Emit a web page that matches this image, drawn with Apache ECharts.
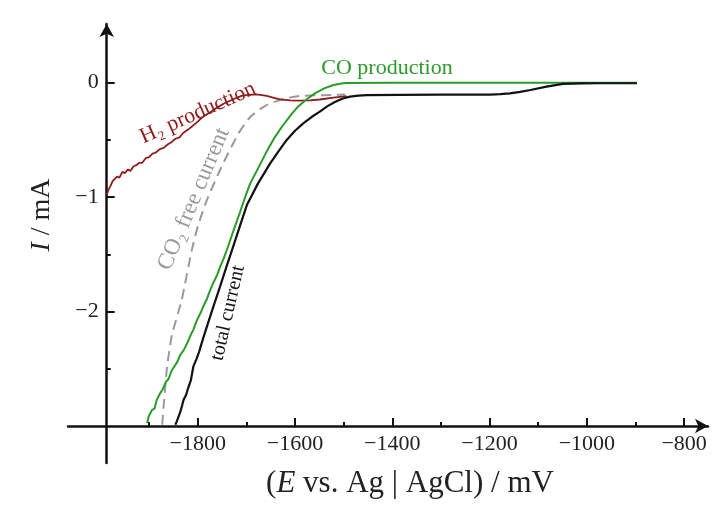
<!DOCTYPE html>
<html>
<head>
<meta charset="utf-8">
<script src="https://cdn.jsdelivr.net/npm/echarts@6/dist/echarts.min.js"></script>
<style>
html,body{margin:0;padding:0;background:#fff;}
#chart{width:718px;height:511px;}
</style>
</head>
<body>
<div id="chart"></div>
<script>
// ---- data (E in mV, I in mA) ----
var xTicks = [-1800, -1600, -1400, -1200, -1000, -800];
var xMinorTicks = [-1900, -1700, -1500, -1300, -1100, -900];
var yTicks = [0, -1, -2];
var yMinorTicks = [-0.5, -1.5, -2.5];

var h2Production = [[-1987,-0.98],[-1983,-0.93],[-1979,-0.90],[-1975,-0.86],[-1971,-0.87],[-1966,-0.82],[-1961,-0.83],[-1955,-0.78],[-1950,-0.79],[-1944,-0.76],[-1938,-0.77],[-1932,-0.73],[-1926,-0.72],[-1920,-0.70],[-1914,-0.70],[-1907,-0.66],[-1900,-0.65],[-1893,-0.62],[-1886,-0.61],[-1878,-0.58],[-1870,-0.57],[-1862,-0.54],[-1854,-0.52],[-1846,-0.49],[-1838,-0.48],[-1830,-0.44],[-1820,-0.41],[-1811,-0.38],[-1800,-0.34],[-1790,-0.30],[-1775,-0.26],[-1761,-0.22],[-1745,-0.18],[-1727,-0.145],[-1710,-0.115],[-1693,-0.105],[-1675,-0.105],[-1658,-0.116],[-1645,-0.13],[-1631,-0.145],[-1610,-0.155],[-1590,-0.157],[-1570,-0.155],[-1549,-0.147],[-1521,-0.13],[-1494,-0.118]];

var coProduction = [[-1904,-2.975],[-1901,-2.92],[-1898,-2.93],[-1894,-2.86],[-1889,-2.85],[-1884,-2.77],[-1878,-2.72],[-1872,-2.68],[-1866,-2.62],[-1860,-2.59],[-1854,-2.52],[-1848,-2.48],[-1842,-2.44],[-1836,-2.38],[-1829,-2.34],[-1822,-2.28],[-1815,-2.21],[-1808,-2.15],[-1802,-2.08],[-1795,-2.02],[-1788,-1.95],[-1781,-1.89],[-1775,-1.82],[-1768,-1.75],[-1761,-1.69],[-1754,-1.61],[-1747,-1.54],[-1740,-1.46],[-1727,-1.30],[-1713,-1.13],[-1700,-0.97],[-1692,-0.88],[-1675,-0.74],[-1658,-0.60],[-1642,-0.48],[-1627,-0.385],[-1610,-0.29],[-1594,-0.21],[-1576,-0.145],[-1559,-0.093],[-1540,-0.05],[-1521,-0.02],[-1505,-0.007],[-1494,-0.002],[-1400,0],[-897,0]];

var totalCurrent = [[-1846,-2.99],[-1843,-2.96],[-1840,-2.965],[-1836,-2.88],[-1832,-2.82],[-1829,-2.77],[-1824,-2.73],[-1819,-2.66],[-1814,-2.60],[-1809,-2.48],[-1803,-2.42],[-1797,-2.35],[-1790,-2.25],[-1781,-2.13],[-1768,-1.96],[-1754,-1.78],[-1741,-1.61],[-1727,-1.43],[-1713,-1.25],[-1699,-1.07],[-1676,-0.88],[-1651,-0.705],[-1634,-0.60],[-1617,-0.50],[-1600,-0.42],[-1583,-0.355],[-1566,-0.30],[-1549,-0.253],[-1533,-0.205],[-1518,-0.169],[-1503,-0.14],[-1487,-0.122],[-1470,-0.113],[-1452,-0.108],[-1384,-0.106],[-1300,-0.105],[-1199,-0.105],[-1178,-0.10],[-1158,-0.094],[-1137,-0.08],[-1116,-0.064],[-1083,-0.035],[-1049,-0.011],[-1010,-0.006],[-973,-0.005],[-897,-0.005]];

var co2FreeCurrent = [[-1873,-2.99],[-1869,-2.77],[-1863,-2.485],[-1853,-2.205],[-1833,-1.90],[-1812,-1.46],[-1799,-1.243],[-1781,-1.025],[-1751,-0.734],[-1716,-0.442],[-1692,-0.30],[-1662,-0.204],[-1625,-0.142],[-1590,-0.116],[-1556,-0.11],[-1522,-0.108],[-1497,-0.103]];

var labels = {
  h2: 'H\u2082 production',
  co: 'CO production',
  co2free: 'CO\u2082 free current',
  total: 'total current'
};

// ---- chart ----
var FONT = '"Liberation Serif", "DejaVu Serif", serif';
var chart = echarts.init(document.getElementById('chart'), null, {renderer: 'canvas'});
var xMin = -2066.7, xMax = -750.9, yMin = -3.324, yMax = 0.513;
function minus(v){ return String(v).replace('-', '\u2212'); }

var option = {
  backgroundColor: '#fff',
  animation: false,
  grid: {left: 68, right: 10, top: 24, bottom: 48, containLabel: false},
  xAxis: [{
    type: 'value', min: xMin, max: xMax, position: 'bottom', offset: -37,
    axisLine: {onZero: false, lineStyle: {color: '#111', width: 2.5}, symbol: ['none', 'arrow'], symbolSize: [11, 13]},
    axisTick: {inside: true, length: 8, lineStyle: {color: '#111', width: 2}, customValues: xTicks},
    axisLabel: {customValues: xTicks, formatter: minus, margin: 7, color: '#222', fontFamily: FONT, fontSize: 22},
    splitLine: {show: false}
  }, {
    type: 'value', min: xMin, max: xMax, position: 'bottom', offset: -37,
    axisLine: {show: false, onZero: false},
    axisTick: {inside: true, length: 4, lineStyle: {color: '#111', width: 2}, customValues: xMinorTicks},
    axisLabel: {show: false},
    splitLine: {show: false}
  }],
  yAxis: [{
    type: 'value', min: yMin, max: yMax, position: 'left', offset: -38.7,
    axisLine: {onZero: false, lineStyle: {color: '#111', width: 2.5}, symbol: ['none', 'arrow'], symbolSize: [11, 13]},
    axisTick: {inside: true, length: 8, lineStyle: {color: '#111', width: 2}, customValues: yTicks},
    axisLabel: {customValues: yTicks, formatter: minus, margin: 8, color: '#222', fontFamily: FONT, fontSize: 22},
    splitLine: {show: false}
  }, {
    type: 'value', min: yMin, max: yMax, position: 'left', offset: -38.7,
    axisLine: {show: false, onZero: false},
    axisTick: {inside: true, length: 4, lineStyle: {color: '#111', width: 2}, customValues: yMinorTicks},
    axisLabel: {show: false},
    splitLine: {show: false}
  }],
  series: [
    {type: 'line', name: labels.co2free, data: co2FreeCurrent, showSymbol: false, smooth: 0.2,
     lineStyle: {color: '#9a9a9a', width: 2, type: [10, 6]}, z: 2},
    {type: 'line', name: labels.h2, data: h2Production, showSymbol: false,
     lineStyle: {color: '#8e1c1c', width: 1.8}, z: 3},
    {type: 'line', name: labels.co, data: coProduction, showSymbol: false,
     lineStyle: {color: '#2a9a2a', width: 2}, z: 4},
    {type: 'line', name: labels.total, data: totalCurrent, showSymbol: false,
     lineStyle: {color: '#111', width: 2.2}, z: 5}
  ],
  graphic: [
    {type: 'text', x: 198, y: 113, rotation: 24 * Math.PI / 180,
     style: {text: labels.h2, fill: '#8e1c1c', font: '22px ' + FONT, align: 'center', verticalAlign: 'middle'}},
    {type: 'text', x: 387, y: 68,
     style: {text: labels.co, fill: '#2a9a2a', font: '22px ' + FONT, align: 'center', verticalAlign: 'middle'}},
    {type: 'text', x: 194, y: 199, rotation: 67 * Math.PI / 180,
     style: {text: labels.co2free, fill: '#9a9a9a', font: '23px ' + FONT, align: 'center', verticalAlign: 'middle'}},
    {type: 'text', x: 228, y: 313, rotation: 77 * Math.PI / 180,
     style: {text: labels.total, fill: '#111', font: '20px ' + FONT, align: 'center', verticalAlign: 'middle'}},
    {type: 'text', x: 410, y: 484,
     style: {text: '({i|E} vs. Ag | AgCl) / mV', fill: '#222', font: '31px ' + FONT, align: 'center', verticalAlign: 'middle',
       rich: {i: {fontStyle: 'italic', fontSize: 31, fontFamily: FONT, fill: '#222'}}}},
    {type: 'text', x: 42, y: 215, rotation: Math.PI / 2,
     style: {text: '{i|I} / mA', fill: '#222', font: '28px ' + FONT, align: 'center', verticalAlign: 'middle',
       rich: {i: {fontStyle: 'italic', fontSize: 28, fontFamily: FONT, fill: '#222'}}}}
  ]
};
chart.setOption(option);
</script>
</body>
</html>
